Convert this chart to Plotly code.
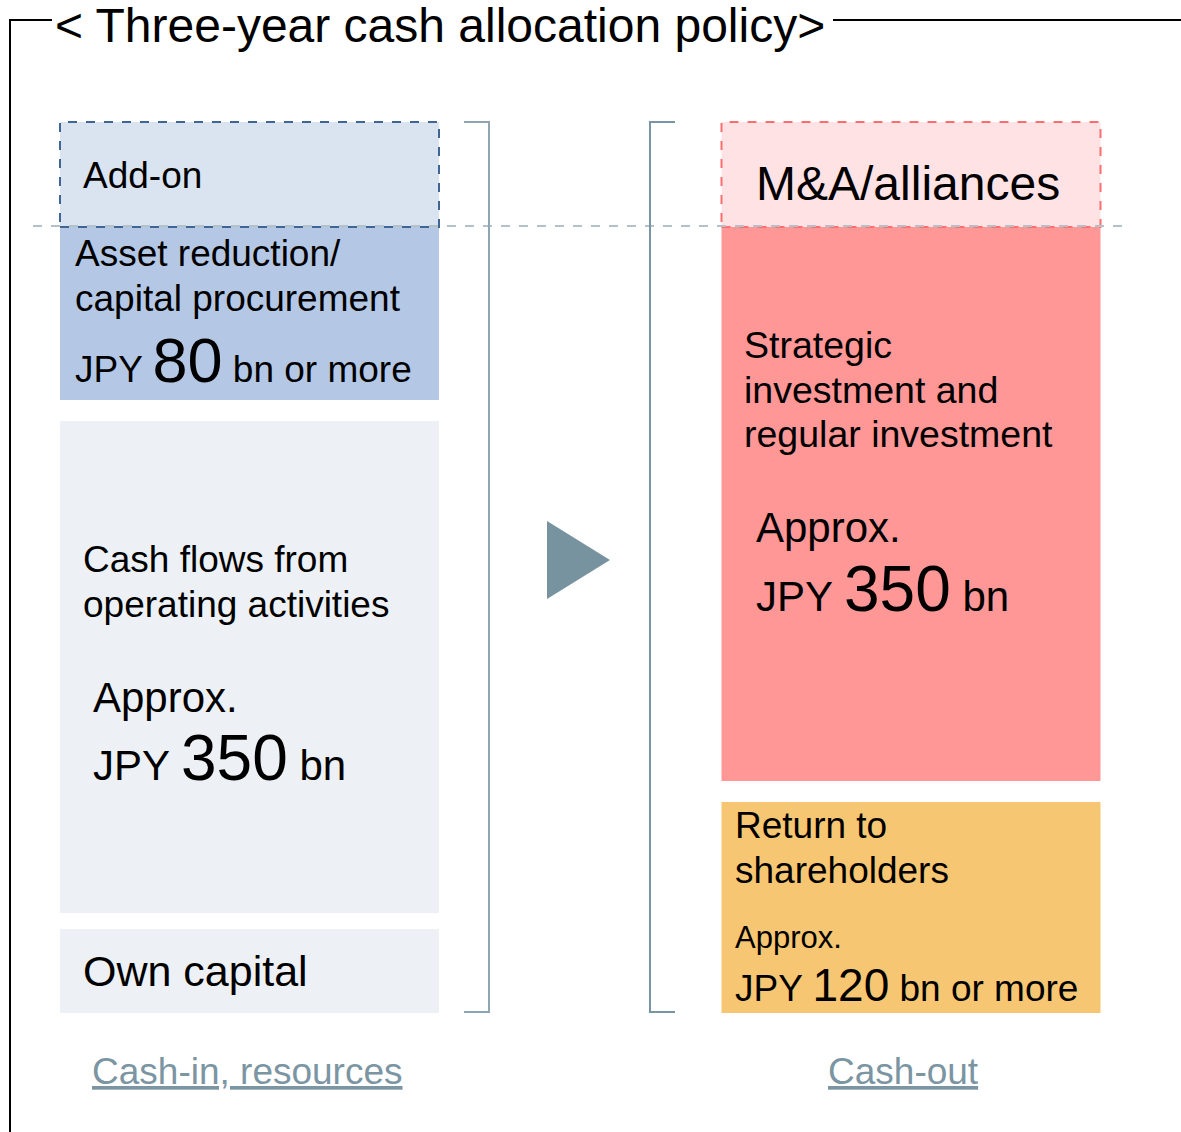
"""Three-year cash allocation policy diagram."""

import plotly.graph_objects as go

# ---- data -----------------------------------------------------------------
COLUMNS = ["Cash-in, resources", "Cash-out"]

LEFT_BLOCKS = ["Own capital", "Cash flows from operating activities",
               "Asset reduction/capital procurement", "Add-on"]
LEFT_HEIGHTS = [84, 492, 173, 105]     # block heights, diagram units
LEFT_GAPS = [0, 16, 21, 0]             # white gap under each block
LEFT_JPY_BN = [None, 350, 80, None]

RIGHT_BLOCKS = ["Return to shareholders",
                "Strategic investment and regular investment", "M&A/alliances"]
RIGHT_HEIGHTS = [211, 554, 105]
RIGHT_GAPS = [0, 21, 0]
RIGHT_JPY_BN = [120, 350, None]

# ---- styling --------------------------------------------------------------
W, H = 1181, 1132
TOP = 1013            # pixel row of the blocks' baseline
FONT = "Liberation Sans, Arial, sans-serif"
LEFT_COLORS = ["#edf1f5", "#edf1f5", "#b4c8e5", "#dae4f1"]
RIGHT_COLORS = ["#f7c672", "#ff9797", "#ffe2e4"]
GREY_BLUE = "#7a94a1"
COL_X = [249.5, 911]
COL_W = 379
PAD = 3               # annotation padding compensation


def py(p):
    """pixel row -> y value"""
    return TOP - p


def bases(heights, gaps):
    out, level = [], 0
    for h, g in zip(heights, gaps):
        level += g
        out.append(level)
        level += h
    return out


left_base = bases(LEFT_HEIGHTS, LEFT_GAPS)
right_base = bases(RIGHT_HEIGHTS, RIGHT_GAPS)

fig = go.Figure()
fig.add_trace(go.Bar(x=[COL_X[0]] * len(LEFT_BLOCKS), y=LEFT_HEIGHTS, base=left_base,
                     width=COL_W, marker=dict(color=LEFT_COLORS, line=dict(width=0)),
                     name=COLUMNS[0], hovertext=LEFT_BLOCKS))
fig.add_trace(go.Bar(x=[COL_X[1]] * len(RIGHT_BLOCKS), y=RIGHT_HEIGHTS, base=right_base,
                     width=COL_W, marker=dict(color=RIGHT_COLORS, line=dict(width=0)),
                     name=COLUMNS[1], hovertext=RIGHT_BLOCKS))

shapes = []
# dashed outlines of the optional top blocks
for cx, b, h, c in [(COL_X[0], left_base[-1], LEFT_HEIGHTS[-1], "#3f6595"),
                    (COL_X[1], right_base[-1], RIGHT_HEIGHTS[-1], "#ff6e6e")]:
    shapes.append(dict(type="rect", x0=cx - COL_W / 2, x1=cx + COL_W / 2, y0=b, y1=b + h,
                       line=dict(color=c, width=2, dash="dash")))
# horizontal dashed divider
shapes.append(dict(type="line", x0=33, x1=1130, y0=py(226), y1=py(226),
                   line=dict(color="#b3c1c9", width=2, dash="dash")))
# brackets
shapes.append(dict(type="path", path=f"M 464 {py(122)} L 489 {py(122)} L 489 {py(1012)} L 464 {py(1012)}",
                   line=dict(color="#8ea6b2", width=2)))
shapes.append(dict(type="path", path=f"M 675 {py(122)} L 650 {py(122)} L 650 {py(1012)} L 675 {py(1012)}",
                   line=dict(color=GREY_BLUE, width=2)))
# arrow
shapes.append(dict(type="path", path=f"M 547 {py(521)} L 610 {py(560)} L 547 {py(599)} Z",
                   fillcolor="#7893a0", line=dict(width=0)))
# outer frame
shapes.append(dict(type="path", path=f"M 10 {py(1140)} L 10 {py(20)} L 52 {py(20)}",
                   line=dict(color="black", width=2)))
shapes.append(dict(type="line", x0=833, x1=1190, y0=py(20), y1=py(20),
                   line=dict(color="black", width=2)))


def big(n, size):
    return f"<span style='font-size:{size}px'>{n}</span>"


lines = [
    # (x px, y px, text, size)
    (56, 25, "< Three-year cash allocation policy>", 48),
    (84, 175, "Add-on", 37),
    (76, 253, "Asset reduction/", 37),
    (76, 298, "capital procurement", 37),
    (76, 360, f"JPY {big(LEFT_JPY_BN[2], 63)} bn or more", 37),
    (84, 559, "Cash flows from", 37),
    (84, 604, "operating activities", 37),
    (94, 697, "Approx.", 42),
    (94, 758, f"JPY {big(LEFT_JPY_BN[1], 64)} bn", 42),
    (84, 971, LEFT_BLOCKS[0], 43),
    (757, 183, RIGHT_BLOCKS[2], 48),
    (745, 345, "Strategic", 37.5),
    (745, 390, "investment and", 37.5),
    (745, 434, "regular investment", 37.5),
    (757, 527, "Approx.", 42),
    (757, 589, f"JPY {big(RIGHT_JPY_BN[1], 64)} bn", 42),
    (736, 825, "Return to", 37),
    (736, 870, "shareholders", 37),
    (736, 937, "Approx.", 31),
    (736, 985, f"JPY {big(RIGHT_JPY_BN[0], 46)} bn or more", 37),
]
annotations = [dict(x=x - PAD, y=py(y), text=t, showarrow=False, xanchor="left", yanchor="middle",
                    font=dict(family=FONT, size=s, color="black"))
               for x, y, t, s in lines]
for label, lx in [(COLUMNS[0], 247), (COLUMNS[1], 903)]:
    annotations.append(dict(x=lx, y=py(1071), text=label, showarrow=False,
                            xanchor="center", yanchor="middle",
                            font=dict(family=FONT, size=37, color="#7b95a3",
                                      lineposition="under")))

fig.update_layout(
    width=W, height=H,
    margin=dict(l=0, r=0, t=0, b=0),
    paper_bgcolor="white", plot_bgcolor="white",
    barmode="overlay", showlegend=False,
    xaxis=dict(range=[0, W], visible=False, fixedrange=True),
    yaxis=dict(range=[py(H), py(0)], visible=False, fixedrange=True),
    shapes=shapes, annotations=annotations,
)
fig.write_html("out.html", config={"displayModeBar": False},
               post_script="document.body.style.margin='0';")
